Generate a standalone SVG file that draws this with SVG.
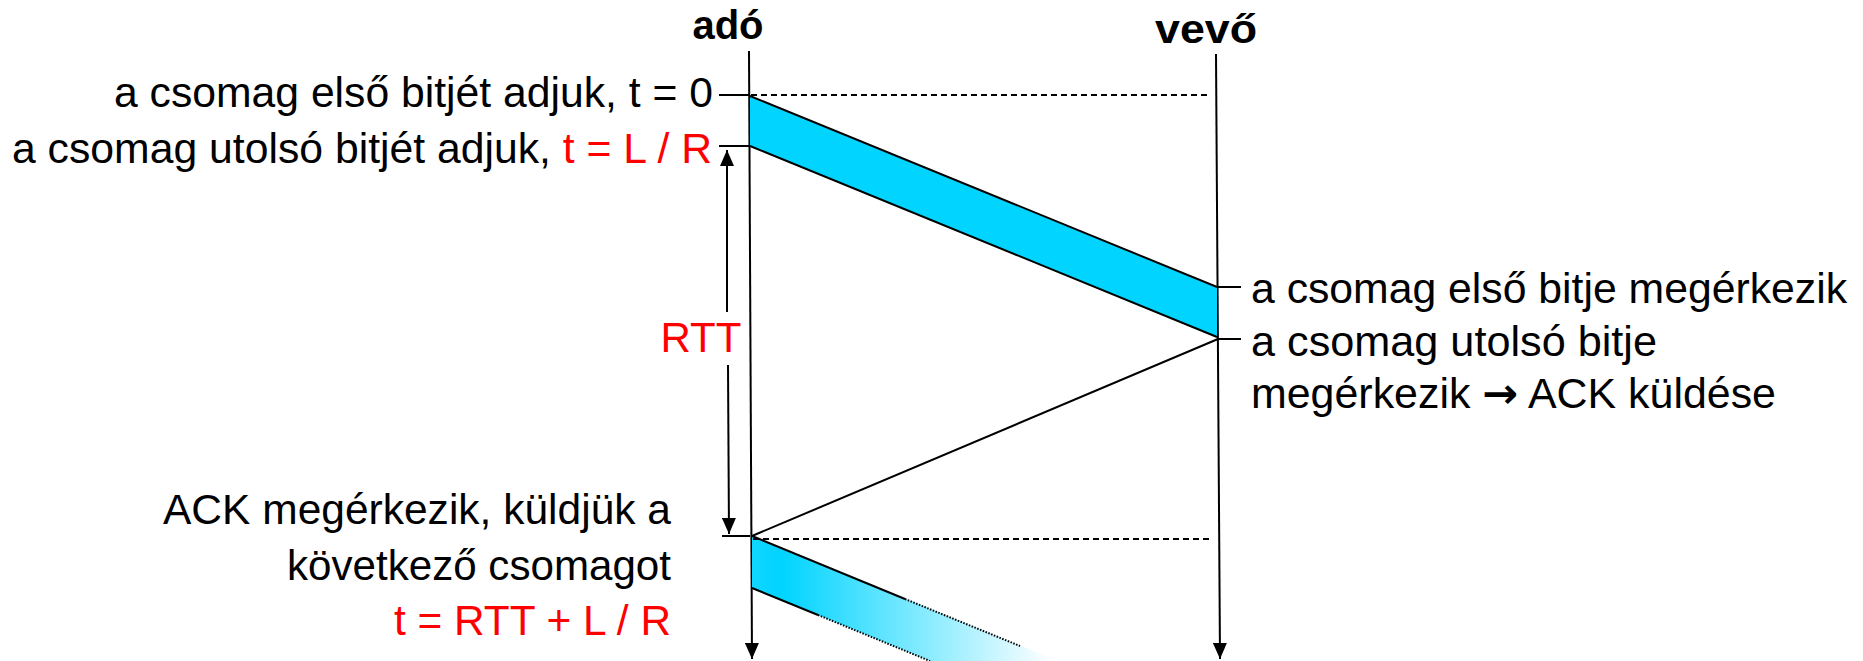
<svg xmlns="http://www.w3.org/2000/svg" width="1863" height="661" viewBox="0 0 1863 661">
<style>
  text { font-family: "Liberation Sans", Arial, sans-serif; font-size: 42px; fill: #000; }
  .hdr { font-weight: bold; font-size: 40px; text-anchor: middle; }
  .red { fill: #FF0000; }
  .end { text-anchor: end; }
  .ln { stroke: #000; stroke-width: 2; fill: none; }
  .dash { stroke: #000; stroke-width: 2; stroke-dasharray: 6 4; fill: none; }
  .dot { stroke: #000; stroke-width: 2; stroke-dasharray: 1.5 1.5; fill: none; }
  .pkt { fill: #00D4FF; stroke: none; }
  .arr { font-family: "DejaVu Sans", sans-serif; font-weight: bold; }
</style>
<defs>
  <marker id="ah" viewBox="0 0 16 14" refX="16" refY="7" markerWidth="16" markerHeight="14" markerUnits="userSpaceOnUse" orient="auto">
    <path d="M0,0 L16,7 L0,14 Z" fill="#000"/>
  </marker>
  <linearGradient id="fade" gradientUnits="userSpaceOnUse" x1="752" y1="0" x2="1052" y2="0">
    <stop offset="0" stop-color="#10D6FF"/>
    <stop offset="0.1" stop-color="#00D4FF"/>
    <stop offset="1" stop-color="#FFFFFF"/>
  </linearGradient>
</defs>
<rect width="1863" height="661" fill="#fff"/>

<g id="sender">
  <text class="hdr" x="728" y="39">adó</text>
  <line class="ln" x1="749" y1="51" x2="752" y2="659" marker-end="url(#ah)"/>
</g>

<g id="receiver">
  <text class="hdr" x="1206" y="43" textLength="102" lengthAdjust="spacingAndGlyphs">vevő</text>
  <line class="ln" x1="1216" y1="54" x2="1220" y2="659" marker-end="url(#ah)"/>
</g>

<g id="packet1">
  <polygon class="pkt" points="750,96 1217,287 1217,337 750,146"/>
</g>

<g id="packet2">
  <polygon points="752,536 1058,661 930,661 752,588" fill="url(#fade)"/>
</g>

<g id="label-first-bit-sent">
  <text x="114" y="107" textLength="599" lengthAdjust="spacingAndGlyphs">a csomag első bitjét adjuk, t = 0</text>
</g>
<g id="label-last-bit-sent">
  <text x="12" y="163" textLength="700" lengthAdjust="spacingAndGlyphs">a csomag utolsó bitjét adjuk, <tspan class="red">t = L / R</tspan></text>
</g>
<g id="label-first-bit-arrives">
  <text x="1251" y="303" textLength="596" lengthAdjust="spacingAndGlyphs">a csomag első bitje megérkezik</text>
</g>
<g id="label-last-bit-arrives">
  <text x="1251" y="356" textLength="406" lengthAdjust="spacingAndGlyphs">a csomag utolsó bitje</text>
  <text x="1251" y="408" textLength="525" lengthAdjust="spacingAndGlyphs">megérkezik <tspan class="arr">→</tspan> ACK küldése</text>
</g>
<g id="label-rtt">
  <text class="red" x="701" y="352" text-anchor="middle">RTT</text>
</g>
<g id="label-ack-arrives">
  <text x="163" y="524" textLength="508" lengthAdjust="spacingAndGlyphs">ACK megérkezik, küldjük a</text>
  <text x="287" y="580" textLength="384" lengthAdjust="spacingAndGlyphs">következő csomagot</text>
  <text class="red" x="394" y="635" textLength="277" lengthAdjust="spacingAndGlyphs">t = RTT + L / R</text>
</g>

<g id="connectors">
  <line class="ln" x1="719" y1="95" x2="749" y2="95"/>
  <line class="ln" x1="719" y1="146" x2="749" y2="146"/>
  <line class="ln" x1="1218" y1="287" x2="1241" y2="287"/>
  <line class="ln" x1="1218" y1="339" x2="1241" y2="339"/>
  <line class="ln" x1="722" y1="536" x2="750" y2="536"/>
  <line class="dash" x1="751" y1="95" x2="1211" y2="95"/>
  <line class="dash" x1="753" y1="539" x2="1211" y2="539"/>
  <line class="ln" x1="750" y1="96" x2="1217" y2="287"/>
  <line class="ln" x1="750" y1="146" x2="1217" y2="337"/>
  <line class="ln" x1="1218" y1="339" x2="752" y2="536"/>
  <line class="ln" x1="752" y1="536" x2="905" y2="599"/>
  <line class="dot" x1="905" y1="599" x2="1020" y2="646"/>
  <line class="ln" x1="752" y1="588" x2="818" y2="615"/>
  <line class="dot" x1="818" y1="615" x2="930" y2="661"/>
  <line class="ln" x1="727" y1="312" x2="727" y2="150" marker-end="url(#ah)"/>
  <line class="ln" x1="728" y1="365" x2="729" y2="534" marker-end="url(#ah)"/>
</g>
</svg>
